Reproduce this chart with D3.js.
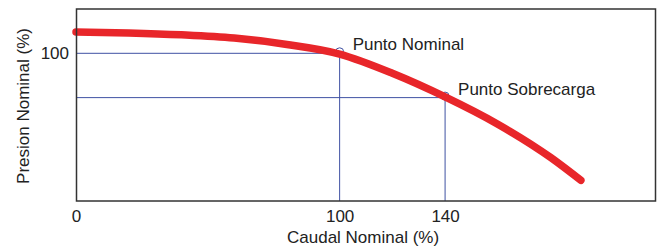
<!DOCTYPE html>
<html>
<head>
<meta charset="utf-8">
<script src="https://cdn.jsdelivr.net/npm/d3@7"></script>
<style>
    body { margin: 0; background: #fff; }
    text { font-family: Arial, "Liberation Sans", sans-serif; fill: #222; }
    .axis .domain { display: none; }
</style>
</head>
<body>
<svg id="chart"></svg>
<script>
// curve (caudal %, presion %)
const caudal  = [0, 20, 40, 60, 80, 100, 120, 140, 160, 180, 191.5];
const presion = [114.5, 113.8, 112.5, 110.3, 106, 99.5, 86.5, 70.5, 52, 29.5, 14];

// marked operating points
const puntoNames   = ['Punto Nominal', 'Punto Sobrecarga'];
const puntoCaudal  = [100, 140];
const puntoPresion = [100, 70];

// tick labels
const xTicks = [0, 100, 140];
const yTicks = [100];

class CurvaBomba {

    constructor(_config) {
        this.config = {
            parentElement: _config.parentElement,
            containerWidth: _config.containerWidth || 658,
            containerHeight: _config.containerHeight || 249,
            margin: { top: 9, bottom: 48, right: 2, left: 76 }
        }
        this.initVis();
    }

    initVis() {
        let vis = this;

        vis.width = vis.config.containerWidth - vis.config.margin.left - vis.config.margin.right;
        vis.height = vis.config.containerHeight - vis.config.margin.top - vis.config.margin.bottom;

        vis.svg = d3.select(vis.config.parentElement)
            .attr('width', vis.config.containerWidth)
            .attr('height', vis.config.containerHeight);

        vis.chart = vis.svg.append('g')
            .attr('transform', `translate(${vis.config.margin.left},${vis.config.margin.top})`);

        // scales
        vis.xScale = d3.scaleLinear().domain([0, 220]).range([0, vis.width]);
        vis.yScale = d3.scaleLinear().domain([0, 130]).range([vis.height, 0]);

        // axis
        vis.xAxis = d3.axisBottom(vis.xScale).tickValues(xTicks).tickSize(0).tickPadding(9);
        vis.yAxis = d3.axisLeft(vis.yScale).tickValues(yTicks).tickSize(0).tickPadding(7);

        vis.renderVis();
    }

    renderVis() {
        let vis = this;
        let puntos = puntoNames.map((n, i) => ({ name: n, q: puntoCaudal[i], p: puntoPresion[i] }));
        let curve = caudal.map((q, i) => ({ q: q, p: presion[i] }));

        // guide lines to the operating points
        vis.chart.selectAll('.hline')
            .data(puntos)
            .enter()
            .append('line')
                .attr('class', 'hline')
                .attr('x1', 0)
                .attr('x2', d => vis.xScale(d.q))
                .attr('y1', d => vis.yScale(d.p))
                .attr('y2', d => vis.yScale(d.p))
                .attr('stroke', '#3f51a3')
                .attr('stroke-width', 1);

        vis.chart.selectAll('.vline')
            .data(puntos)
            .enter()
            .append('line')
                .attr('class', 'vline')
                .attr('x1', d => vis.xScale(d.q))
                .attr('x2', d => vis.xScale(d.q))
                .attr('y1', d => vis.yScale(d.p))
                .attr('y2', vis.height)
                .attr('stroke', '#3f51a3')
                .attr('stroke-width', 1);

        vis.chart.selectAll('circle')
            .data(puntos)
            .enter()
            .append('circle')
                .attr('cx', d => vis.xScale(d.q))
                .attr('cy', d => vis.yScale(d.p) - 1.5)
                .attr('r', 4)
                .attr('fill', 'none')
                .attr('stroke', '#3f51a3')
                .attr('stroke-width', 1);

        vis.chart.selectAll('.label')
            .data(puntos)
            .enter()
            .append('text')
                .attr('class', 'label')
                .attr('x', d => vis.xScale(d.q) + 13)
                .attr('y', d => vis.yScale(d.p) - 3)
                .attr('font-size', '17px')
                .text(d => d.name);

        // the red curve
        let line = d3.line()
            .x(d => vis.xScale(d.q))
            .y(d => vis.yScale(d.p))
            .curve(d3.curveMonotoneX);

        vis.chart.append('path')
            .datum(curve)
            .attr('d', line)
            .attr('fill', 'none')
            .attr('stroke', '#e8262a')
            .attr('stroke-width', 7.5)
            .attr('stroke-linecap', 'round');

        // frame
        vis.chart.append('rect')
            .attr('x', 0.5)
            .attr('y', 0)
            .attr('width', vis.width - 1)
            .attr('height', vis.height)
            .attr('fill', 'none')
            .attr('stroke', '#333')
            .attr('stroke-width', 1.5);

        // axis
        vis.xAxisGroup = vis.chart.append('g')
            .attr('class', 'axis x-axis')
            .attr('transform', `translate(0, ${vis.height})`)
            .call(vis.xAxis);
        vis.xAxisGroup.selectAll('text').attr('font-size', '17px').attr('fill', '#222');

        vis.yAxisGroup = vis.chart.append('g')
            .attr('class', 'axis y-axis')
            .call(vis.yAxis);
        vis.yAxisGroup.selectAll('text').attr('font-size', '17px').attr('fill', '#222');

        // axis titles
        vis.chart.append('text')
            .attr('x', 287 - vis.config.margin.left)
            .attr('y', vis.height + 42)
            .attr('font-size', '17px')
            .text('Caudal Nominal (%)');

        vis.chart.append('text')
            .attr('transform', 'rotate(-90)')
            .attr('x', -vis.height / 2 - 1)
            .attr('y', -47)
            .attr('text-anchor', 'middle')
            .attr('font-size', '17px')
            .text('Presion Nominal (%)');
    }
}

new CurvaBomba({ parentElement: '#chart' });
</script>
</body>
</html>
